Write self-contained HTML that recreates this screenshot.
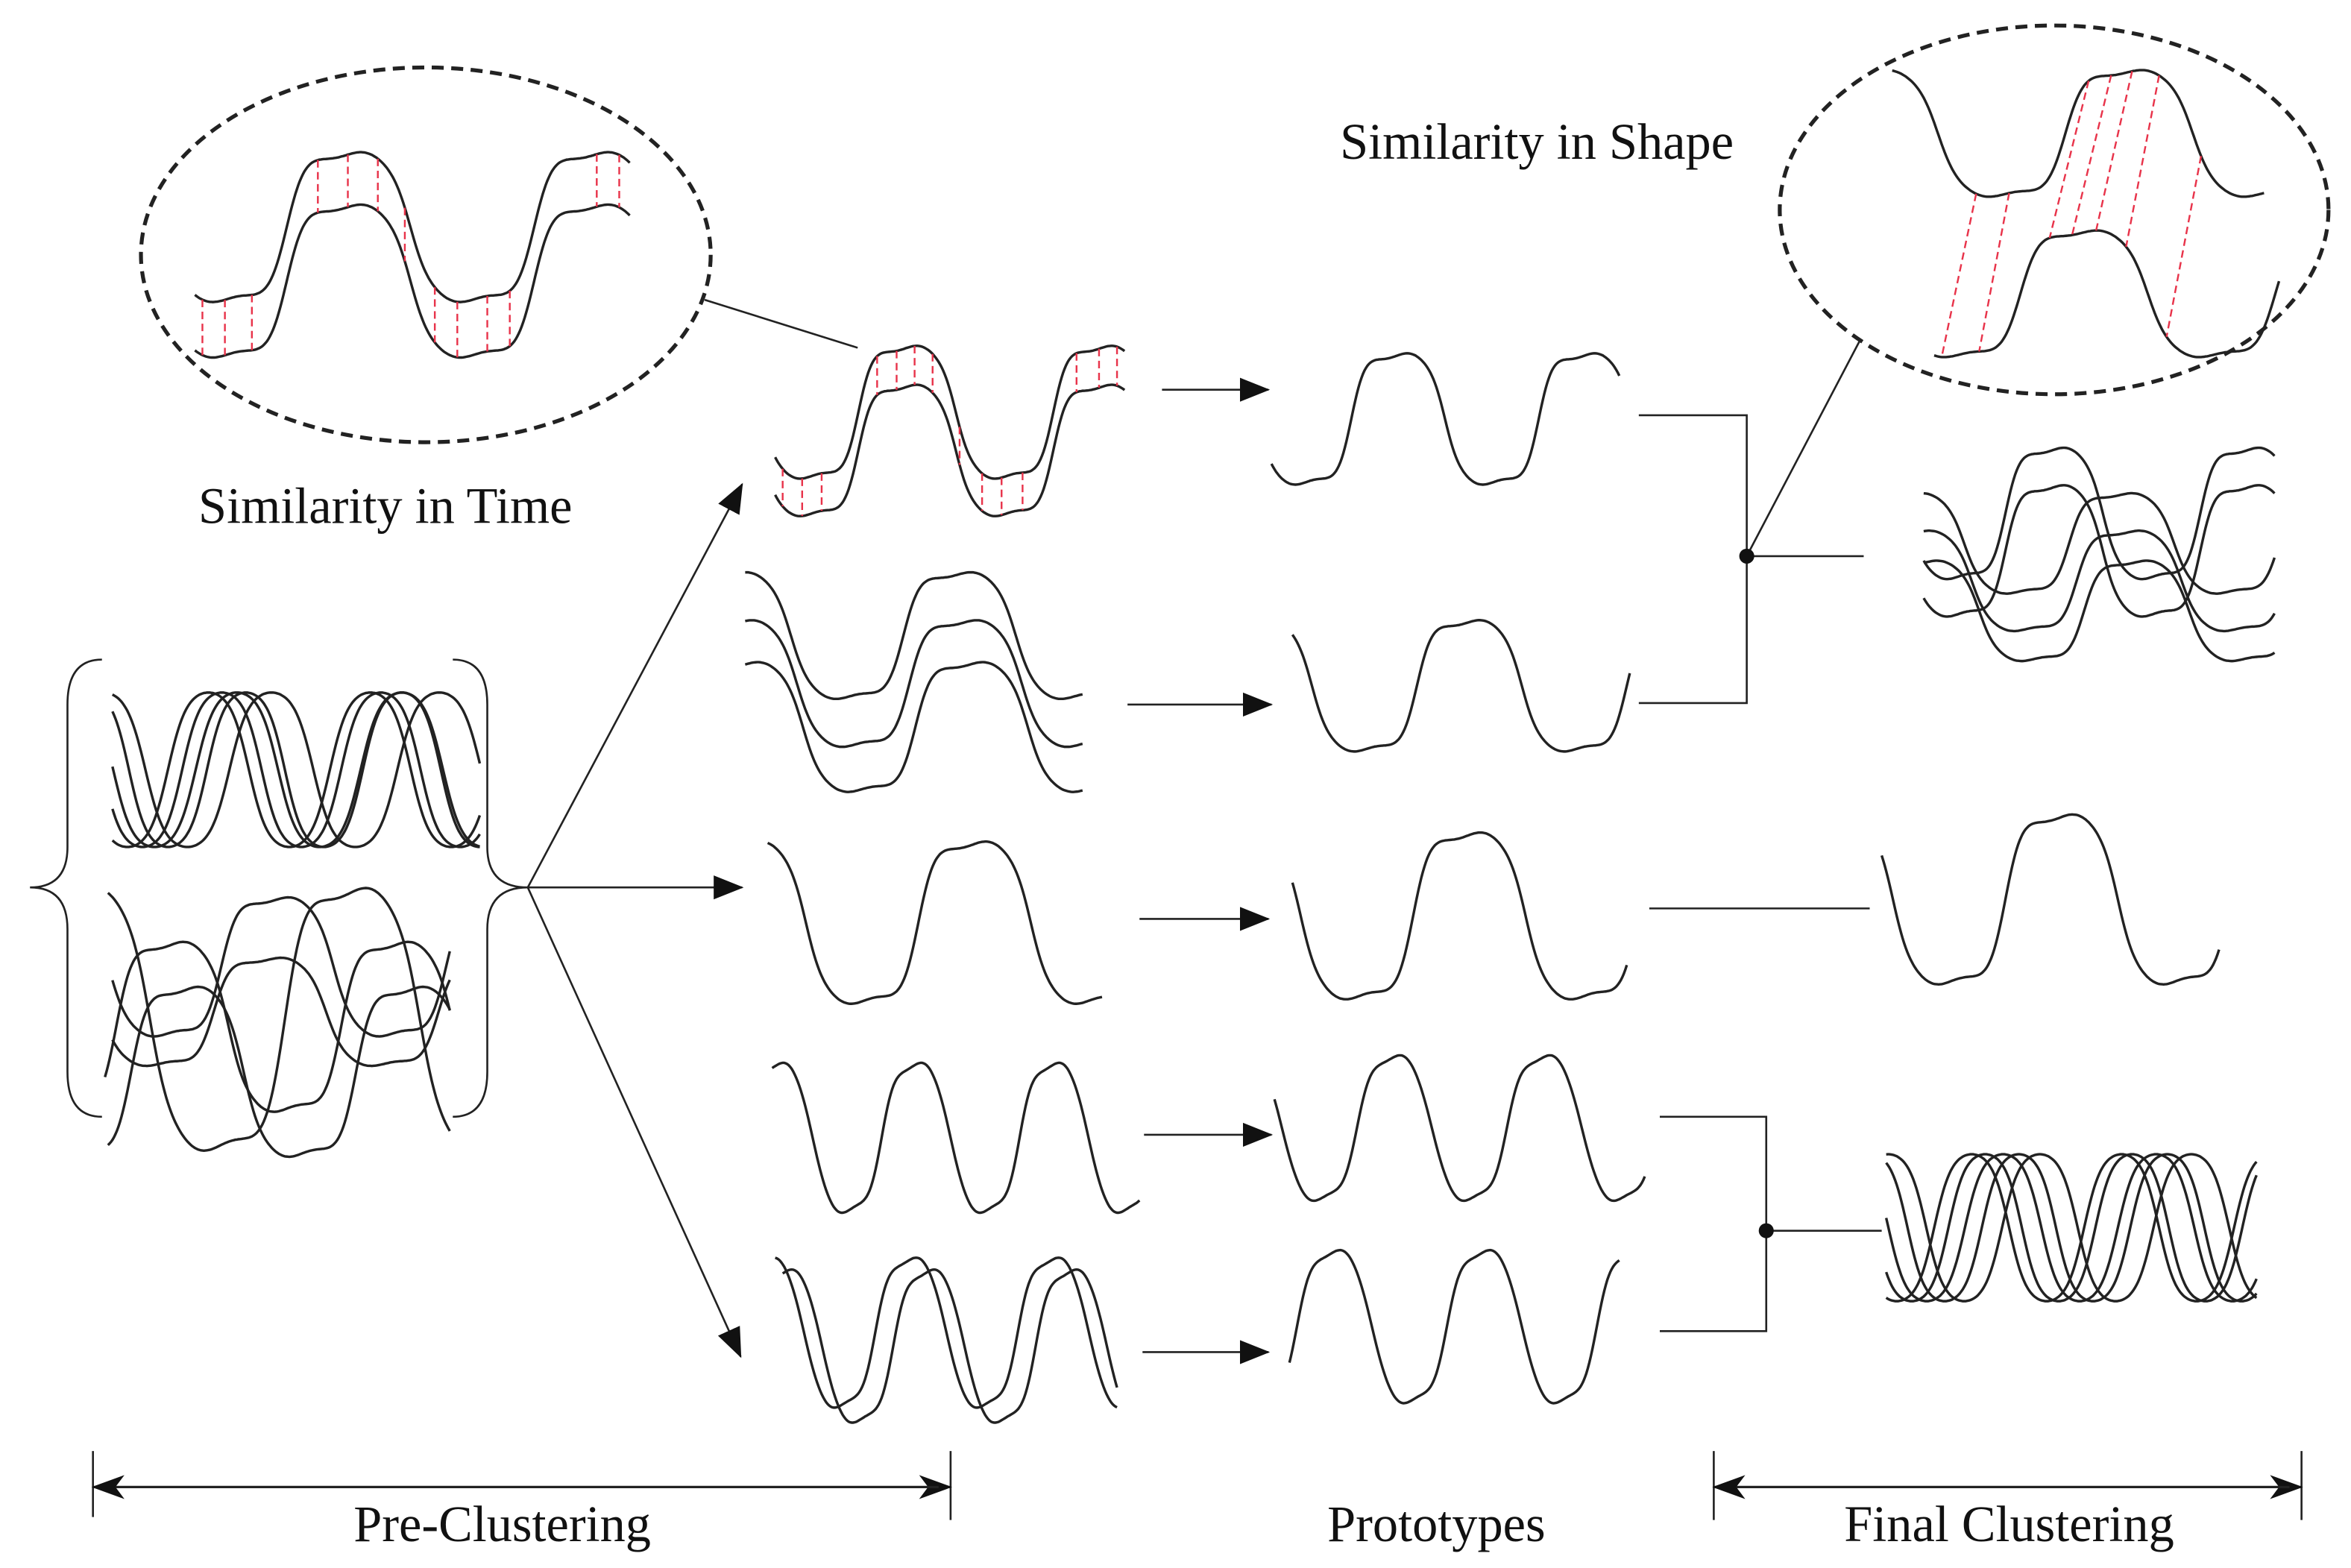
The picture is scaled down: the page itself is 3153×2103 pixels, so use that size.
<!DOCTYPE html>
<html><head><meta charset="utf-8">
<style>
html,body{margin:0;padding:0;background:#fff;}
svg{display:block;}
text{font-family:"Liberation Serif",serif;font-size:34px;fill:#111;}
</style></head>
<body>
<svg id="s" width="3153" height="2103" viewBox="0 0 1568 1046" preserveAspectRatio="none" xmlns="http://www.w3.org/2000/svg">
<defs>
<marker id="ah2" markerWidth="20" markerHeight="16" refX="19" refY="8" orient="auto" markerUnits="userSpaceOnUse" viewBox="0 0 20 16">
<path d="M0,0 L20,8 L0,16 z" fill="#111"/></marker>
<marker id="ab" markerWidth="22" markerHeight="16" refX="21" refY="8" orient="auto" markerUnits="userSpaceOnUse" viewBox="0 0 22 16">
<path d="M0,0 L22,8 L0,16 L6,8 z" fill="#111"/></marker>
</defs>
<g fill="none" stroke="#222" stroke-width="1.6">
<ellipse cx="284" cy="170" rx="190" ry="125" stroke-dasharray="8,5" stroke-width="2.6"/>
<ellipse cx="1370" cy="140" rx="183" ry="123" stroke-dasharray="8,5" stroke-width="2.6"/>
<line x1="470" y1="200" x2="572" y2="232" stroke-width="1.3"/>
<line x1="1165" y1="371" x2="1240" y2="228" stroke-width="1.3"/>
<path d="M68,440 Q45,440 45,470 L45,565 Q45,592 20,592 Q45,592 45,620 L45,715 Q45,745 68,745" stroke-width="1.3"/>
<path d="M302,440 Q325,440 325,470 L325,565 Q325,592 352,592 Q325,592 325,620 L325,715 Q325,745 302,745" stroke-width="1.3"/>
<line x1="352" y1="592" x2="495" y2="323" marker-end="url(#ah2)" stroke-width="1.3"/>
<line x1="352" y1="592" x2="495" y2="592" marker-end="url(#ah2)" stroke-width="1.3"/>
<line x1="352" y1="592" x2="494" y2="905" marker-end="url(#ah2)" stroke-width="1.3"/>
<line x1="775" y1="260" x2="846" y2="260" marker-end="url(#ah2)" stroke-width="1.3"/>
<line x1="752" y1="470" x2="848" y2="470" marker-end="url(#ah2)" stroke-width="1.3"/>
<line x1="760" y1="613" x2="846" y2="613" marker-end="url(#ah2)" stroke-width="1.3"/>
<line x1="763" y1="757" x2="848" y2="757" marker-end="url(#ah2)" stroke-width="1.3"/>
<line x1="762" y1="902" x2="846" y2="902" marker-end="url(#ah2)" stroke-width="1.3"/>
<path d="M1093,277 H1165 V469 H1093" stroke-width="1.3"/>
<line x1="1165" y1="371" x2="1243" y2="371" stroke-width="1.3"/>
<line x1="1100" y1="606" x2="1247" y2="606" stroke-width="1.3"/>
<path d="M1107,745 H1178 V888 H1107" stroke-width="1.3"/>
<line x1="1178" y1="821" x2="1255" y2="821" stroke-width="1.3"/>
<line x1="62" y1="968" x2="62" y2="1012" stroke-width="1.3"/>
<line x1="634" y1="968" x2="634" y2="1014" stroke-width="1.3"/>
<line x1="70" y1="992" x2="634" y2="992" marker-end="url(#ab)" stroke-width="1.5"/>
<line x1="626" y1="992" x2="62" y2="992" marker-end="url(#ab)" stroke-width="1.5"/>
<line x1="1143" y1="968" x2="1143" y2="1014" stroke-width="1.3"/>
<line x1="1535" y1="968" x2="1535" y2="1014" stroke-width="1.3"/>
<line x1="1150" y1="992" x2="1535" y2="992" marker-end="url(#ab)" stroke-width="1.5"/>
<line x1="1527" y1="992" x2="1143" y2="992" marker-end="url(#ab)" stroke-width="1.5"/>
</g>
<circle cx="1165" cy="371" r="5" fill="#111"/>
<circle cx="1178" cy="821" r="5" fill="#111"/>
<g id="waves" fill="none" stroke="#222" stroke-width="1.7"></g>
<g id="reds" fill="none" stroke="#e8334a" stroke-width="1.2" stroke-dasharray="5,3"></g>
<text x="257" y="349" text-anchor="middle">Similarity in Time</text>
<text x="1025" y="106" text-anchor="middle">Similarity in Shape</text>
<text x="335" y="1028" text-anchor="middle">Pre-Clustering</text>
<text x="958" y="1028" text-anchor="middle">Prototypes</text>
<text x="1340" y="1028" text-anchor="middle">Final Clustering</text>
</svg>
<script>
var NS="http://www.w3.org/2000/svg";
function f(x,c){var t=2*Math.PI*(x-c.xc)/c.P-Math.PI/2;var k=c.k||2;var s=Math.tanh(k*Math.sin(t))/Math.tanh(k);
var w=(c.wob===undefined?0.04:c.wob)*Math.sin(4*t);
var mid=(c.hi+c.lo)/2,a=(c.lo-c.hi)/2;return mid-a*(s+w);}
function W(c){var d="";for(var x=c.x0;x<=c.x1;x+=1){d+=(x==c.x0?"M":"L")+x.toFixed(1)+","+f(x,c).toFixed(1);}
var p=document.createElementNS(NS,"path");p.setAttribute("d",d);document.getElementById("waves").appendChild(p);}
function R(a,b,xs){xs.forEach(function(x){var l=document.createElementNS(NS,"line");l.setAttribute("x1",x);l.setAttribute("x2",x);l.setAttribute("y1",f(x,a));l.setAttribute("y2",f(x,b));document.getElementById("reds").appendChild(l);});}
var ea={x0:130,x1:420,hi:103,lo:200,P:165,xc:150},eb={x0:130,x1:420,hi:138,lo:237,P:165,xc:150};
W(ea);W(eb);R(ea,eb,[135,150,168,212,232,252,270,290,305,325,340,398,413]);
var ra={x0:517,x1:750,hi:232,lo:318,P:130,xc:540},rb={x0:517,x1:750,hi:258,lo:343,P:130,xc:540};
W(ra);W(rb);R(ra,rb,[522,535,548,585,598,610,622,640,655,668,682,718,733,745]);
var sa={x0:1262,x1:1510,hi:48,lo:130,P:170,xc:1335},sb={x0:1290,x1:1520,hi:155,lo:237,P:170,xc:1305};
W(sa);W(sb);
(function(){var pairs=[[1318,1295],[1340,1320],[1393,1367],[1408,1382],[1422,1398],[1440,1418],[1468,1445]];
pairs.forEach(function(p){var l=document.createElementNS(NS,"line");l.setAttribute("x1",p[0]);l.setAttribute("y1",f(p[0],sa));l.setAttribute("x2",p[1]);l.setAttribute("y2",f(p[1],sb));document.getElementById("reds").appendChild(l);});})();
[[383,465,0],[415,497,4],[443,527,8]].forEach(function(v){W({x0:497,x1:722,hi:v[0],lo:v[1],P:150,xc:565+v[2]});});
W({x0:512,x1:735,hi:563,lo:668,P:150,xc:575});
W({x0:515,x1:760,hi:710,lo:808,P:92,xc:565,k:1.3});
W({x0:517,x1:745,hi:840,lo:938,P:95,xc:560,k:1.3});W({x0:522,x1:745,hi:848,lo:948,P:95,xc:572,k:1.3});
W({x0:848,x1:1080,hi:237,lo:322,P:125,xc:870});
W({x0:862,x1:1087,hi:415,lo:500,P:140,xc:910});
W({x0:862,x1:1085,hi:557,lo:665,P:150,xc:905});
W({x0:850,x1:1097,hi:705,lo:800,P:100,xc:880,k:1.3});
W({x0:860,x1:1080,hi:835,lo:935,P:100,xc:940,k:1.3});
// final 1: combination of row1 and row2 shapes
W({x0:1283,x1:1517,hi:300,lo:385,P:130,xc:1305});
W({x0:1283,x1:1517,hi:325,lo:410,P:130,xc:1305});
W({x0:1283,x1:1517,hi:330,lo:395,P:140,xc:1345});
W({x0:1283,x1:1517,hi:355,lo:420,P:140,xc:1350});
W({x0:1283,x1:1517,hi:375,lo:440,P:140,xc:1355});
W({x0:1255,x1:1480,hi:545,lo:655,P:150,xc:1300});
[[1265,100],[1275,98],[1285,102],[1297,99],[1310,101]].forEach(function(c){W({x0:1258,x1:1505,hi:770,lo:868,P:c[1],xc:c[0],k:1.2,wob:0});});
[[85,108],[95,106],[103,110],[112,104],[125,112]].forEach(function(c){W({x0:75,x1:320,hi:462,lo:565,P:c[1],xc:c[0],k:1.2,wob:0});});
W({x0:72,x1:300,hi:595,lo:765,P:180,xc:145});
W({x0:75,x1:300,hi:640,lo:710,P:150,xc:105});
W({x0:75,x1:300,hi:600,lo:690,P:150,xc:110});
W({x0:70,x1:300,hi:630,lo:740,P:150,xc:190});
W({x0:72,x1:300,hi:660,lo:770,P:150,xc:200});
</script>
</body></html>
